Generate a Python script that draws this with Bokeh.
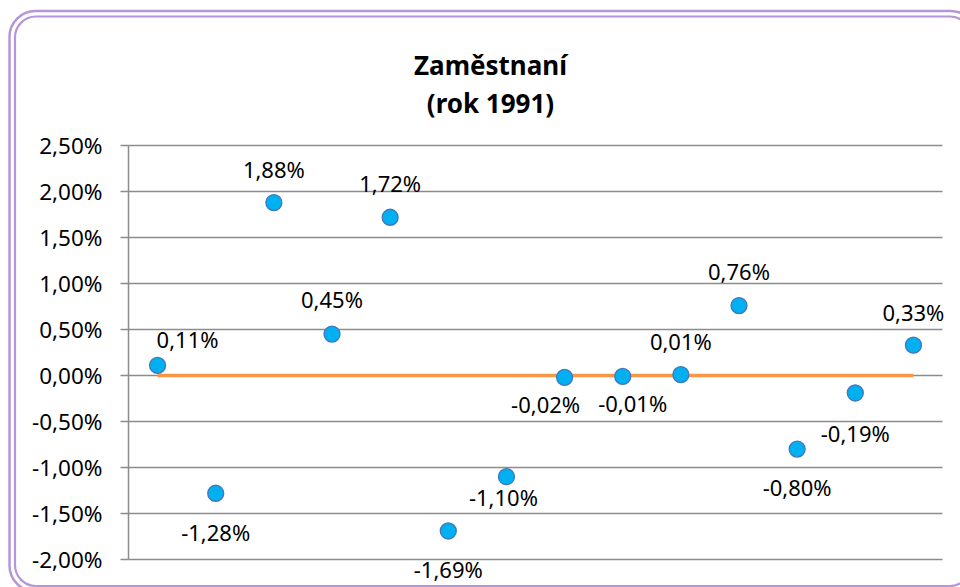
from bokeh.plotting import figure
from bokeh.models import (ColumnDataSource, LabelSet, Label, FixedTicker, Range1d,
                          BoxAnnotation, CustomJSTickFormatter)
from bokeh.core.properties import value
from bokeh.embed import file_html
from bokeh.resources import INLINE

# ---- data ----
categories = [1, 2, 3, 4, 5, 6, 7, 8, 9, 10, 11, 12, 13, 14]
values = [0.11, -1.28, 1.88, 0.45, 1.72, -1.69, -1.10, -0.02, -0.01, 0.01, 0.76, -0.80, -0.19, 0.33]
zero_series = [0, 0, 0, 0, 0, 0, 0, 0, 0, 0, 0, 0, 0, 0]
y_ticks = [-2.0, -1.5, -1.0, -0.5, 0.0, 0.5, 1.0, 1.5, 2.0, 2.5]
y_tick_labels = ["-2,00%", "-1,50%", "-1,00%", "-0,50%", "0,00%", "0,50%",
                 "1,00%", "1,50%", "2,00%", "2,50%"]
title_lines = ["Zaměstnaní", "(rok 1991)"]

# data-label placement (pixels; dx right, dy down)
label_dx = [30, 0, 0, 0, 0, 0, -3, -19, 10, 0, 0, 0, 0, 0]
label_dy = [-26, 39, -34, -35, -34, 38, 20, 27, 27, -34, -35, 38, 40, -33]

# ---- layout (pixels in the picture) ----
W, H = 960, 587
PL, PR, PT, PB = 128, 942, 145, 559          # plot area edges
X_LO, X_HI = 0.5, 14.5                       # category band edges
Y_LO, Y_HI = y_ticks[0], y_ticks[-1]

def xd(px):
    return X_LO + (px - PL) * (X_HI - X_LO) / (PR - PL)

def yd(py):
    return Y_HI - (py - PT) * (Y_HI - Y_LO) / (PB - PT)

FONT = "Noto Sans"
GRID = "#8C8C8C"
PURPLE = "#B596D8"

p = figure(width=W, height=H, output_backend="svg", toolbar_location=None,
           x_range=Range1d(xd(0), xd(W)), y_range=Range1d(yd(H), yd(0)),
           min_border_left=0, min_border_right=0, min_border_top=0,
           min_border_bottom=0)
p.outline_line_color = None
p.background_fill_color = "white"
p.border_fill_color = "white"

p.xaxis.visible = False
p.xgrid.visible = False
p.ygrid.visible = False

ax = p.yaxis[0]
ax.fixed_location = X_LO
ax.bounds = (Y_LO, Y_HI)
ax.ticker = FixedTicker(ticks=y_ticks)
ax.formatter = CustomJSTickFormatter(
    args=dict(tvals=y_ticks, tlabels=y_tick_labels),
    code="""
    for (let i = 0; i < tvals.length; i++) {
        if (Math.abs(tvals[i] - tick) < 1e-9) return tlabels[i];
    }
    return '';
    """)
ax.axis_line_color = GRID
ax.axis_line_width = 1.5
ax.major_tick_line_color = GRID
ax.major_tick_line_width = 1.5
ax.major_tick_out = 8
ax.major_tick_in = 0
ax.minor_tick_line_color = None
ax.major_label_standoff = 18
ax.major_label_text_font = FONT
ax.major_label_text_font_size = "22.5px"
ax.major_label_text_color = "#000000"

# horizontal gridlines across the plot area
p.segment(x0=X_LO, x1=X_HI, y0=y_ticks, y1=y_ticks,
          line_color=GRID, line_width=1.5)

# zero series line
p.line(categories, zero_series, line_color="#F79646", line_width=3.5)

# points
p.scatter(categories, values, size=16, fill_color="#00B0F0",
          line_color="#4178BE", line_width=1.3)

# data labels
src = ColumnDataSource(dict(
    x=categories, y=values,
    text=[f"{v:.2f}".replace(".", ",") + "%" for v in values],
    dx=label_dx, dy=[-d for d in label_dy]))
p.add_layout(LabelSet(source=src, x="x", y="y", text="text",
                      x_offset="dx", y_offset="dy",
                      text_align="center", text_baseline="middle",
                      text_font=value(FONT), text_font_size=value("22px"),
                      text_color="#000000"))

# title (two lines)
for line, base in zip(title_lines, [64, 102]):
    p.add_layout(Label(x=xd(490), y=yd(base), text=line, text_align="center",
                       text_baseline="alphabetic", text_font=FONT,
                       text_font_size="26px", text_font_style="bold",
                       text_color="#000000"))

# rounded double frame around the chart
p.add_layout(BoxAnnotation(left=xd(9), right=xd(976), top=yd(10.5), bottom=yd(591),
                           fill_color=None, fill_alpha=0,
                           line_color=PURPLE, line_alpha=1.0, line_width=2.5,
                           border_radius=26))
p.add_layout(BoxAnnotation(left=xd(14.5), right=xd(970.5), top=yd(16), bottom=yd(585.5),
                           fill_color=None, fill_alpha=0,
                           line_color=PURPLE, line_alpha=1.0, line_width=2.2,
                           border_radius=21))

open("out.html", "w").write(file_html(p, INLINE))
